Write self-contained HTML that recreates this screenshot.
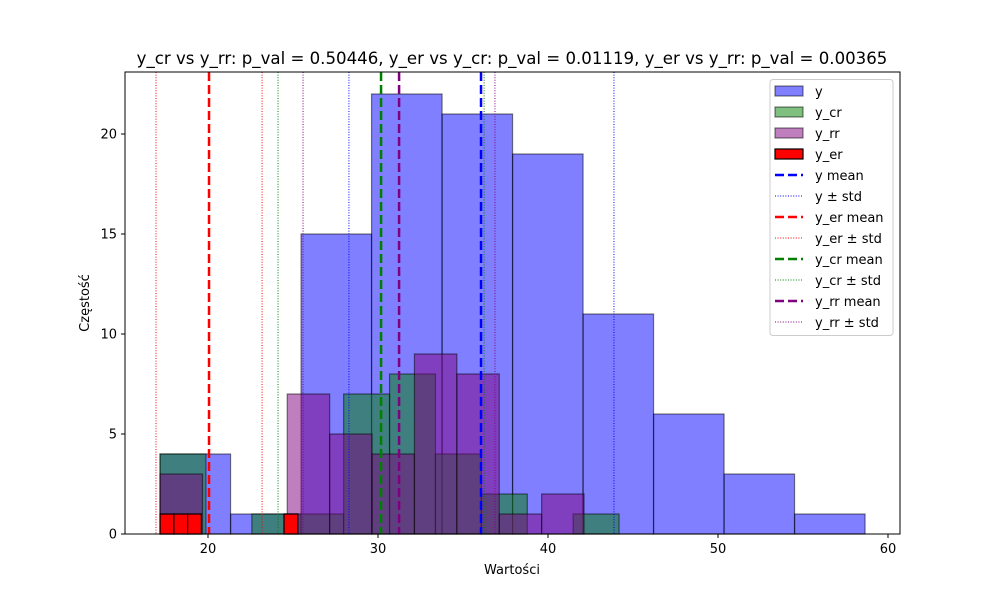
<!DOCTYPE html>
<html><head><meta charset="utf-8"><style>
body{margin:0;background:#fff}
svg{font-family:"DejaVu Sans","Liberation Sans",sans-serif}
</style></head><body>
<svg id="c" width="1000" height="600" viewBox="0 0 1000 600">
<rect width="1000" height="600" fill="#fff"/>
<text x="512" y="64" font-size="16.6" text-anchor="middle">y_cr vs y_rr: p_val = 0.50446, y_er vs y_cr: p_val = 0.01119, y_er vs y_rr: p_val = 0.00365</text>
<g id="marks"></g>
<g id="axes"></g>
<g id="legend"></g>
</svg>
<script>
const yStart=17.18, yWidth=4.147, yCounts=[4,1,15,22,21,19,11,6,3,1];
const crStart=17.18, crWidth=2.70, crCounts=[4,0,1,1,7,8,4,2,0,1];
const rrStart=17.18, rrWidth=2.494, rrCounts=[3,0,0,7,5,4,9,8,1,2];
const erStart=17.18, erWidth=0.81, erCounts=[1,1,1,0,0,0,0,0,0,1];
const means=[36.06,20.06,30.18,31.24];
const stdLo=[28.29,16.94,24.12,25.59];
const stdHi=[43.88,23.18,36.24,36.88];
const lineColors=['blue','red','green','purple'];
const lineNames=['y','y_er','y_cr','y_rr'];
const xTicks=[20,30,40,50,60];
const yTicks=[0,5,10,15,20];
const NS='http://www.w3.org/2000/svg';
const X=v=>208+(v-20)*17, Y=v=>534-v*20;
function mk(tag,attrs,parent){const e=document.createElementNS(NS,tag);for(const k in attrs)e.setAttribute(k,attrs[k]);parent.appendChild(e);return e;}
const marks=document.getElementById('marks');
function hist(start,w,counts,fill,op,stroke,sop,name){
 counts.forEach((c,i)=>{if(!c)return;
  const r=mk('rect',{x:X(start+i*w),y:Y(c),width:X(start+(i+1)*w)-X(start+i*w),height:Y(0)-Y(c),fill:fill,'fill-opacity':op,stroke:stroke,'stroke-opacity':sop,'stroke-width':1.2},marks);
  
  
 });
}
hist(yStart,yWidth,yCounts,'blue',0.5,'#000',0.5,'y');
hist(crStart,crWidth,crCounts,'green',0.5,'#000',0.5,'y-cr');
hist(rrStart,rrWidth,rrCounts,'purple',0.5,'#000',0.5,'y-rr');
hist(erStart,erWidth,erCounts,'red',1,'#000',1,'y-er');
means.forEach((m,i)=>{
 const l=mk('line',{x1:X(m),x2:X(m),y1:72,y2:534,stroke:lineColors[i],'stroke-width':2.5,'stroke-dasharray':'9,4'},marks);
 
 
 [stdLo[i],stdHi[i]].forEach((s,j)=>{
  const d=mk('line',{x1:X(s),x2:X(s),y1:72,y2:534,stroke:lineColors[i],'stroke-width':1,'stroke-dasharray':'1,1.6'},marks);
  
  
 });
});
const ax=document.getElementById('axes');
const frame=mk('rect',{x:125,y:72,width:775,height:462,fill:'none',stroke:'#000','stroke-width':1},ax);


xTicks.forEach(t=>{
 mk('line',{x1:X(t),x2:X(t),y1:534,y2:538,stroke:'#000'},ax);
 const tx=mk('text',{x:X(t),y:553,'font-size':13,'text-anchor':'middle'},ax);tx.textContent=t;
 
 
});
yTicks.forEach(t=>{
 mk('line',{x1:121,x2:125,y1:Y(t),y2:Y(t),stroke:'#000'},ax);
 const tx=mk('text',{x:117,y:Y(t)+4.5,'font-size':13,'text-anchor':'end'},ax);tx.textContent=t;
 
 
});
const xl=mk('text',{x:512,y:574,'font-size':13,'text-anchor':'middle'},ax);xl.textContent='Wartości';


const yl=mk('text',{x:89,y:303,'font-size':13,'text-anchor':'middle',transform:'rotate(-90 89 303)'},ax);yl.textContent='Częstość';


const lg=document.getElementById('legend');
const box=mk('rect',{x:770,y:79.5,width:123,height:256,rx:3,fill:'#fff','fill-opacity':0.8,stroke:'#ccc'},lg);


const items=[['y','patch','blue',0.5,0.5],['y_cr','patch','green',0.5,0.5],['y_rr','patch','purple',0.5,0.5],['y_er','patch','red',1,1],
['y mean','dash','blue'],['y ± std','dot','blue'],['y_er mean','dash','red'],['y_er ± std','dot','red'],['y_cr mean','dash','green'],['y_cr ± std','dot','green'],['y_rr mean','dash','purple'],['y_rr ± std','dot','purple']];
items.forEach((it,i)=>{
 const cy=91+i*21;
 const g=mk('g',{},lg);
 
 
 if(it[1]=='patch') mk('rect',{x:775,y:cy-5,width:28,height:10,fill:it[2],'fill-opacity':it[3],stroke:'#000','stroke-opacity':it[4],'stroke-width':1.2},g);
 else if(it[1]=='dash') mk('line',{x1:775,x2:803,y1:cy,y2:cy,stroke:it[2],'stroke-width':2.5,'stroke-dasharray':'9,4'},g);
 else mk('line',{x1:775,x2:803,y1:cy,y2:cy,stroke:it[2],'stroke-width':1,'stroke-dasharray':'1,1.6'},g);
 const t=mk('text',{x:815,y:cy+5,'font-size':13},g);t.textContent=it[0];
});
</script>
</body></html>
